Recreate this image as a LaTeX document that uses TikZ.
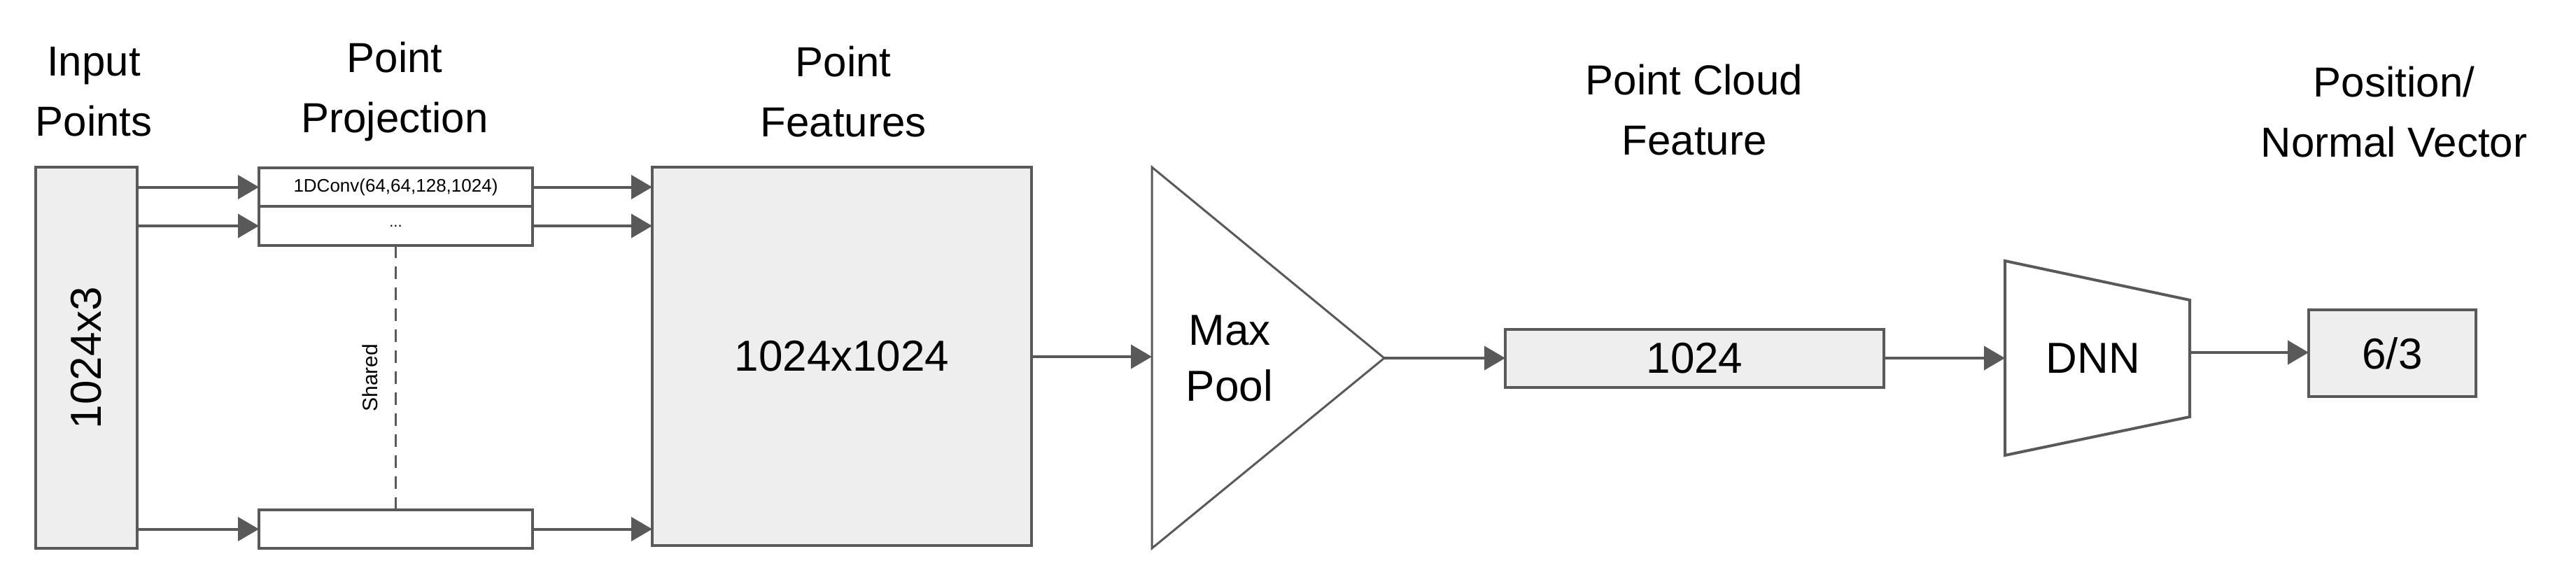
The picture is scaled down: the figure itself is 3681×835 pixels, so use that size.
\documentclass[tikz,border=0pt]{standalone}
\usepackage{fontspec}
\setmainfont{Liberation Sans}
\usetikzlibrary{arrows.meta}
\definecolor{ln}{HTML}{595959}
\definecolor{fl}{HTML}{EEEEEE}
\begin{document}
\begin{tikzpicture}[x=1pt,y=-1pt,
  box/.style={draw=ln,line width=4pt,inner sep=0pt,outer sep=0pt},
  gbox/.style={box,fill=fl},
  wbox/.style={box,fill=white},
  arr/.style={draw=ln,line width=4pt,-{Triangle[length=30pt,width=34pt]}},
  ttl/.style={align=center,font=\fontsize{60}{86}\selectfont},
  big/.style={font=\fontsize{62}{74}\selectfont}]
\useasboundingbox (0,0) rectangle (3681,835);
% titles
\node[ttl] (t1) at (134,131) {Input\\Points};
\node[ttl] (t2) at (564,131) {Point\\Projection};
\node[ttl] (t3) at (1205,131) {Point\\Features};
\node[ttl] (t4) at (2421,157) {Point Cloud\\Feature};
\node[ttl] (t5) at (3421,160) {Position/\\Normal Vector};
% boxes
\node[gbox,minimum width=145pt,minimum height=545pt] (in) at (123.5,511.5) {};
\node[big,rotate=90] (inl) at (123.5,511.5) {1024x3};
\node[wbox,minimum width=391pt,minimum height=55pt,font=\fontsize{26}{30}\selectfont] (c1) at (565.5,267.5) {1DConv(64,64,128,1024)};
\node[wbox,minimum width=391pt,minimum height=56pt,font=\fontsize{22}{26}\selectfont] (c2) at (565.5,323) {...};
\node[wbox,minimum width=391pt,minimum height=55pt] (c3) at (565.5,756.5) {};
\node[gbox,minimum width=542pt,minimum height=541pt,big] (feat) at (1203,509.5) {1024x1024};
\draw[ln,line width=3pt,dash pattern=on 18pt off 12pt] (c2.south) -- (c3.north);
\node[rotate=90,font=\fontsize{30}{34}\selectfont] (sh) at (529,540) {Shared};
% pool
\coordinate (p1) at (1646,239);
\coordinate (p2) at (1978,512);
\coordinate (p3) at (1646,784);
\draw[ln,line width=3pt,line join=miter] (p1) -- (p2) -- (p3) -- cycle;
\node[big,align=center] (pl) at (1757,512) {Max\\[6pt]Pool};
\coordinate (pin) at (1646,510);
\node[gbox,minimum width=541pt,minimum height=83pt,big] (v) at (2421.5,512.5) {1024};
% dnn
\coordinate (d1) at (2865,373);
\coordinate (d2) at (3129,429);
\coordinate (d3) at (3129,596);
\coordinate (d4) at (2865,651);
\draw[ln,line width=4pt] (d1) -- (d2) -- (d3) -- (d4) -- cycle;
\node[big] (dl) at (2991,512) {DNN};
\coordinate (din) at (2865,512);
\coordinate (dout) at (3129,504);
\node[gbox,minimum width=239pt,minimum height=124pt,big] (o) at (3418.5,505) {6/3};
% arrows
\draw[arr] (in.east |- c1.west) -- (c1.west);
\draw[arr] (in.east |- c2.west) -- (c2.west);
\draw[arr] (in.east |- c3.west) -- (c3.west);
\draw[arr] (c1.east) -- (feat.west |- c1.east);
\draw[arr] (c2.east) -- (feat.west |- c2.east);
\draw[arr] (c3.east) -- (feat.west |- c3.east);
\draw[arr] (feat.east |- pin) -- (pin);
\draw[arr] (p2) -- (v.west |- p2);
\draw[arr] (v.east |- din) -- (din);
\draw[arr] (dout) -- (o.west |- dout);
\end{tikzpicture}
\end{document}
